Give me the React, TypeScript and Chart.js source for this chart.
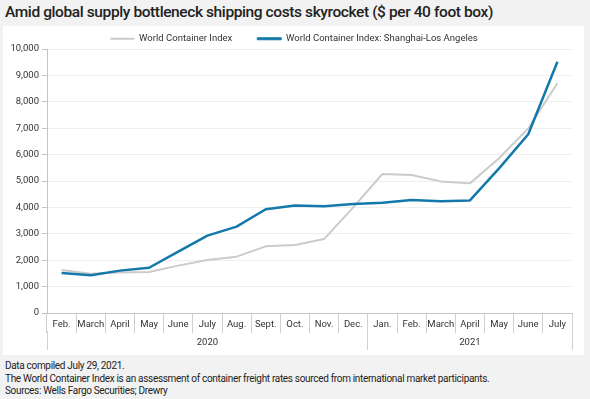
import React, { useEffect, useRef } from 'react';
import { Chart, registerables } from 'chart.js';

Chart.register(...registerables);

const months = ['Feb.', 'March', 'April', 'May', 'June', 'July', 'Aug.', 'Sept.', 'Oct.', 'Nov.', 'Dec.', 'Jan.', 'Feb.', 'March', 'April', 'May', 'June', 'July'];
const years = ['2020', '2021'];
const monthsPerYear = [11, 7];
const worldContainerIndex = [1630, 1490, 1530, 1555, 1795, 2005, 2135, 2525, 2575, 2800, 4000, 5265, 5225, 4985, 4910, 5860, 6995, 8700];
const shanghaiLosAngeles = [1515, 1430, 1605, 1715, 2325, 2930, 3270, 3930, 4075, 4040, 4125, 4180, 4280, 4230, 4265, 5480, 6770, 9520];
const yMax = 10000;
const yStep = 1000;

const FONT = 'Roboto, "Noto Sans", sans-serif';
const TICK_SIZE = 9.5;
const TEXT = '#333333';
const AXIS = '#c4c4c4';
const SEP = '#d0d0d0';

const fmt = (v: number) => Number(v).toLocaleString('en-US');

// year axis ticks: boundaries and group centres, in category-index units
const yearTicks: { value: number; label: string; boundary: boolean }[] = [];
{
  let start = -0.5;
  yearTicks.push({ value: start, label: '', boundary: true });
  monthsPerYear.forEach((n, i) => {
    yearTicks.push({ value: start + n / 2, label: years[i], boundary: false });
    start += n;
    yearTicks.push({ value: start, label: '', boundary: true });
  });
}

export default function App() {
  const ref = useRef<HTMLCanvasElement | null>(null);

  useEffect(() => {
    if (!ref.current) return;
    // widest y label, so mirrored (unclipped) labels can sit left of the axis
    const mctx = document.createElement('canvas').getContext('2d')!;
    mctx.font = `normal ${TICK_SIZE}px ${FONT}`;
    let widest = 0;
    for (let v = 0; v <= yMax; v += yStep) widest = Math.max(widest, mctx.measureText(fmt(v)).width);

    const chart = new Chart(ref.current, {
      type: 'line',
      data: {
        labels: months,
        datasets: [
          {
            label: 'World Container Index',
            data: worldContainerIndex,
            borderColor: '#cbcbcb',
            backgroundColor: '#cbcbcb',
            borderWidth: 2,
            pointRadius: 0,
            tension: 0,
            fill: false,
            order: 1,
            borderJoinStyle: 'round',
          },
          {
            label: 'World Container Index: Shanghai-Los Angeles',
            data: shanghaiLosAngeles,
            borderColor: '#1479aa',
            backgroundColor: '#1479aa',
            borderWidth: 2.5,
            pointRadius: 0,
            tension: 0,
            fill: false,
            order: 0,
            borderJoinStyle: 'round',
          },
        ],
      },
      options: {
        animation: false,
        responsive: false,
        maintainAspectRatio: false,
        layout: { padding: { top: 1, right: 12, bottom: 5, left: 13 } },
        plugins: {
          tooltip: { enabled: false },
          legend: {
            position: 'top',
            maxHeight: 40,
            labels: {
              boxWidth: 24,
              boxHeight: 2,
              padding: 25,
              color: TEXT,
              font: { family: FONT, size: TICK_SIZE },
              sort: (a: any, b: any) => a.datasetIndex - b.datasetIndex,
              generateLabels: (c: any) => {
                const items = Chart.defaults.plugins.legend.labels.generateLabels(c);
                return items.map((it: any) => {
                  const ds = c.data.datasets[it.datasetIndex];
                  return {
                    ...it,
                    fillStyle: ds.borderColor,
                    strokeStyle: ds.borderColor,
                    lineWidth: ds.borderWidth > 2 ? 1 : 0,
                  };
                });
              },
            },
          },
        },
        scales: {
          x: {
            type: 'category',
            position: 'bottom',
            offset: true,
            weight: 0,
            afterFit: (s: any) => { s.height = 18; },
            grid: { display: true, offset: true, drawOnChartArea: false, drawTicks: true, tickLength: 20, tickColor: SEP },
            border: { display: true, color: AXIS },
            ticks: { autoSkip: false, maxRotation: 0, padding: -14, color: TEXT, font: { family: FONT, size: TICK_SIZE } },
          },
          xYear: {
            type: 'linear',
            position: 'bottom',
            min: -0.5,
            max: months.length - 0.5,
            weight: 1,
            afterFit: (s: any) => { s.height = 19; },
            afterBuildTicks: (s: any) => { s.ticks = yearTicks.map((t) => ({ value: t.value })); },
            grid: {
              display: true,
              drawOnChartArea: false,
              drawTicks: true,
              tickLength: 19,
              tickColor: (ctx: any) => (yearTicks[ctx.index] && yearTicks[ctx.index].boundary ? SEP : 'rgba(0,0,0,0)'),
            },
            border: { display: false },
            ticks: {
              autoSkip: false,
              maxRotation: 0,
              padding: -12.7,
              color: TEXT,
              font: { family: FONT, size: TICK_SIZE },
              callback: (_v: any, i: number) => (yearTicks[i] ? yearTicks[i].label : ''),
            },
          },
          y: {
            min: 0,
            max: yMax,
            afterFit: (s: any) => { s.width = 31; },
            grid: { color: '#efefef', tickLength: 5, tickColor: AXIS },
            border: { display: true, color: AXIS },
            ticks: {
              stepSize: yStep,
              mirror: true,
              crossAlign: 'far',
              padding: -8 - widest,
              color: TEXT,
              font: { family: FONT, size: TICK_SIZE },
              callback: (v: any) => fmt(v),
            },
          },
        },
      },
    } as any);
    return () => chart.destroy();
  }, []);

  return (
    <div style={{ position: 'fixed', left: 0, top: 0, width: 590, height: 399, background: '#f2f2f2', overflow: 'hidden', fontFamily: FONT }}>
      <div style={{ position: 'absolute', left: 5, top: 3, fontSize: 15.5, lineHeight: '19px', fontWeight: 500, color: '#222', letterSpacing: '-0.4px', whiteSpace: 'nowrap' }}>
        Amid global supply bottleneck shipping costs skyrocket ($ per 40 foot box)
      </div>
      <div style={{ position: 'absolute', left: 3, top: 26, width: 581, height: 329, background: '#ffffff' }} />
      <div style={{ position: 'absolute', left: 3, top: 8, width: 581, height: 347 }}>
        <canvas ref={ref} width={581} height={347} style={{ width: 581, height: 347, display: 'block' }} />
      </div>
      <div style={{ position: 'absolute', left: 5, top: 360, fontSize: 10, lineHeight: '12.5px', color: '#222', letterSpacing: '-0.32px', whiteSpace: 'nowrap' }}>
        <div>Data compiled July 29, 2021.</div>
        <div>The World Container Index is an assessment of container freight rates sourced from international market participants.</div>
        <div>Sources: Wells Fargo Securities; Drewry</div>
      </div>
    </div>
  );
}
